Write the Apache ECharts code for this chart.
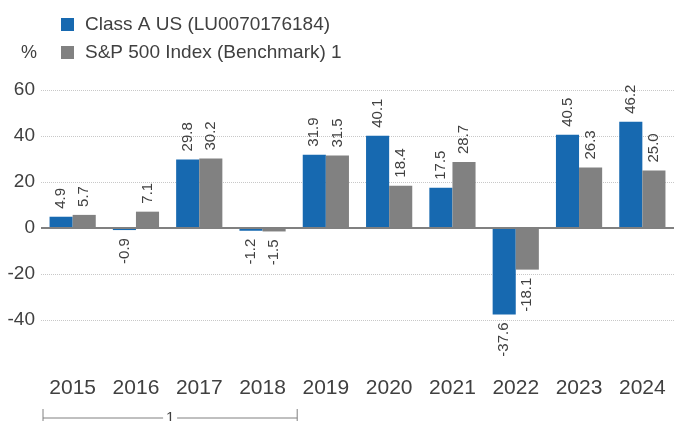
<!DOCTYPE html>
<html>
<head>
<meta charset="utf-8">
<script src="https://cdn.jsdelivr.net/npm/echarts@6/dist/echarts.min.js"></script>
<style>
  html, body { margin: 0; padding: 0; background: #fff; }
  #main { width: 674px; height: 421px; }
</style>
</head>
<body>
<div id="main"></div>
<script>
var years = ['2015', '2016', '2017', '2018', '2019', '2020', '2021', '2022', '2023', '2024'];
var classA = [4.9, -0.9, 29.8, -1.2, 31.9, 40.1, 17.5, -37.6, 40.5, 46.2];
var benchmark = [5.7, 7.1, 30.2, -1.5, 31.5, 18.4, 28.7, -18.1, 26.3, 25.0];
var seriesNames = ['Class A US (LU0070176184)', 'S&P 500 Index (Benchmark) 1'];

var textColor = '#404040';
var fontFamily = 'Liberation Sans, Arial, sans-serif';

// negative bars get their label underneath
function withLabels(values) {
    return values.map(function (v) {
        if (v < 0) {
            return { value: v, label: { position: 'bottom', align: 'right' } };
        }
        return v;
    });
}

var barLabel = {
    show: true,
    position: 'top',
    rotate: 90,
    align: 'left',
    verticalAlign: 'middle',
    distance: 8,
    fontSize: 15,
    color: textColor,
    fontFamily: fontFamily,
    formatter: function (p) { return p.value.toFixed(1); }
};

var chart = echarts.init(document.getElementById('main'), null, { renderer: 'canvas' });

var option = {
    backgroundColor: '#ffffff',
    animation: false,
    color: ['#1769b0', '#818181'],
    textStyle: { fontFamily: fontFamily },
    legend: {
        orient: 'vertical',
        left: 56,
        top: 10,
        itemWidth: 13,
        itemHeight: 13,
        itemGap: 9,
        icon: 'rect',
        textStyle: { fontSize: 19, color: textColor, fontFamily: fontFamily, padding: [0, 0, 0, 6] },
        data: seriesNames
    },
    grid: { left: 41, right: 0, top: 90, bottom: 55 },
    xAxis: {
        type: 'category',
        data: years,
        axisLine: { show: false },
        axisTick: { show: false },
        axisLabel: { fontSize: 21, color: textColor, margin: 12, fontFamily: fontFamily }
    },
    yAxis: {
        type: 'value',
        min: -60,
        max: 60,
        interval: 20,
        axisLine: { show: false },
        axisTick: { show: false },
        axisLabel: {
            fontSize: 19, color: textColor, margin: 6, fontFamily: fontFamily,
            showMinLabel: false
        },
        splitLine: {
            lineStyle: {
                type: 'dotted',
                color: ['rgba(0,0,0,0)', '#c8c8c8', '#c8c8c8', '#c8c8c8', '#c8c8c8', '#c8c8c8', '#c8c8c8']
            }
        }
    },
    series: [{
        name: seriesNames[0],
        type: 'bar',
        data: withLabels(classA),
        barGap: '0%',
        barCategoryGap: '27%',
        label: barLabel,
        markLine: {
            silent: true,
            symbol: 'none',
            label: { show: false },
            lineStyle: { type: 'solid', color: '#808080', width: 2 },
            data: [{ yAxis: 0 }]
        }
    }, {
        name: seriesNames[1],
        type: 'bar',
        data: withLabels(benchmark),
        barGap: '0%',
        barCategoryGap: '27%',
        label: barLabel
    }]
};
chart.setOption(option);

// "%" unit and the footnote bracket under 2015-2018
var c0 = chart.convertToPixel({ xAxisIndex: 0 }, years[0]);
var c1 = chart.convertToPixel({ xAxisIndex: 0 }, years[1]);
var c3 = chart.convertToPixel({ xAxisIndex: 0 }, years[3]);
var half = (c1 - c0) / 2;
var bx0 = c0 - half + 2;
var bx1 = c3 + half + 3;
var mid = (bx0 + bx1) / 2;
var by = 418;
var bracketStyle = { stroke: '#808080', lineWidth: 1 };

chart.setOption({
    graphic: [
        { type: 'text', left: 21, top: 44, style: { text: '%', fontSize: 18, fill: textColor, fontFamily: fontFamily } },
        { type: 'line', shape: { x1: bx0, y1: by, x2: mid - 7, y2: by }, style: bracketStyle },
        { type: 'line', shape: { x1: mid + 7, y1: by, x2: bx1, y2: by }, style: bracketStyle },
        { type: 'line', shape: { x1: bx0, y1: by - 9, x2: bx0, y2: by + 3 }, style: bracketStyle },
        { type: 'line', shape: { x1: bx1, y1: by - 9, x2: bx1, y2: by + 3 }, style: bracketStyle },
        {
            type: 'text', x: mid, y: by, style: {
                text: '1', fontSize: 15, fill: textColor, fontFamily: fontFamily,
                align: 'center', verticalAlign: 'middle'
            }
        }
    ]
});
</script>
</body>
</html>
